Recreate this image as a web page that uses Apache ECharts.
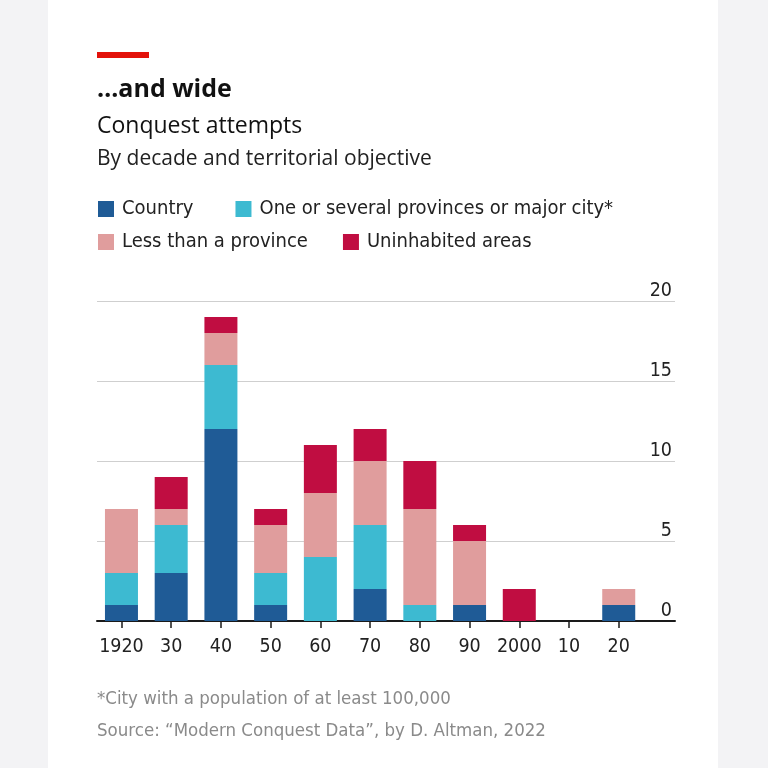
<!DOCTYPE html>
<html><head><meta charset="utf-8">
<script src="https://cdn.jsdelivr.net/npm/echarts@6/dist/echarts.min.js"></script>
<style>html,body{margin:0;padding:0;background:#f3f3f5}#c{width:768px;height:768px}</style>
</head><body><div id="c"></div>
<script>
// ---- data ----
const decades = ['1920','30','40','50','60','70','80','90','2000','10','20'];
const country = [1,3,12,1,0,2,0,1,0,0,1];
const provinces = [2,3,4,2,4,4,1,0,0,0,0];
const lessThanProvince = [4,1,2,3,4,4,6,4,0,0,1];
const uninhabited = [0,2,1,1,3,2,3,1,2,0,0];
const yMin = 0, yMax = 20, yStep = 5;
const seriesNames = ['Country','One or several provinces or major city*','Less than a province','Uninhabited areas'];
const seriesData = [country, provinces, lessThanProvince, uninhabited];
const colors = ['#1f5b96','#3dbad1','#e09d9d','#c00d41'];
const titleText = '…and wide';
const subtitleText = 'Conquest attempts';
const subsubText = 'By decade and territorial objective';
const noteText = '*City with a population of at least 100,000';
const sourceText = 'Source: “Modern Conquest Data”, by D. Altman, 2022';

const NARROW = '"DejaVu Sans Condensed","Liberation Sans Narrow",Roboto,sans-serif';
const SANS = '"Open Sans",Lato,sans-serif';

const chart = echarts.init(document.getElementById('c'), null, {renderer:'canvas'});
const option = {
  backgroundColor: '#f3f3f5',
  animation: false,
  graphic: [
    {type:'rect', z:-10, shape:{x:48, y:0, width:670, height:768}, style:{fill:'#ffffff'}},
    {type:'rect', shape:{x:97, y:52, width:52, height:6}, style:{fill:'#e3120b'}}
  ],
  title: [
    {text:titleText, left:97, top:77, padding:0, textStyle:{fontFamily:SANS, fontWeight:'bold', fontSize:25, lineHeight:25, color:'#111'}},
    {text:subtitleText, left:97, top:115, padding:0, textStyle:{fontFamily:SANS, fontWeight:'normal', fontSize:23, lineHeight:23, color:'#111'}},
    {text:subsubText, left:97, top:149, padding:0, textStyle:{fontFamily:SANS, fontWeight:'normal', fontSize:21, lineHeight:21, color:'#222'}},
    {text:noteText, left:97, top:689, padding:0, textStyle:{fontFamily:NARROW, fontWeight:'normal', fontSize:18.5, lineHeight:20, color:'#8a8a8a'}},
    {text:sourceText, left:97, top:721, padding:0, textStyle:{fontFamily:NARROW, fontWeight:'normal', fontSize:18.5, lineHeight:20, color:'#8a8a8a'}}
  ],
  legend: [
    {data:[seriesNames[0], seriesNames[1]], left:98, top:199, padding:0, itemWidth:16, itemHeight:16, itemGap:42, icon:'rect', selectedMode:false,
     textStyle:{fontFamily:NARROW, fontSize:20, color:'#222', padding:[0,0,0,3]}},
    {data:[seriesNames[2], seriesNames[3]], left:98, top:232, padding:0, itemWidth:16, itemHeight:16, itemGap:35, icon:'rect', selectedMode:false,
     textStyle:{fontFamily:NARROW, fontSize:20, color:'#222', padding:[0,0,0,3]}}
  ],
  grid: [
    {left:97, right:93, top:301, bottom:147},
    {left:96.6, width:547, top:301, bottom:147}
  ],
  xAxis: [
    {gridIndex:0, type:'value', min:0, max:1, axisLine:{show:true, lineStyle:{color:'#1a1a1a', width:2}},
     axisTick:{show:false}, axisLabel:{show:false}, splitLine:{show:false}},
    {gridIndex:1, type:'category', data:decades, axisLine:{show:false},
     axisTick:{show:true, alignWithLabel:true, length:7, lineStyle:{color:'#1a1a1a', width:1.5}},
     axisLabel:{margin:16, fontFamily:NARROW, fontSize:19.5, color:'#222', interval:0}}
  ],
  yAxis: [
    {gridIndex:0, type:'value', min:yMin, max:yMax, interval:yStep, position:'right',
     axisLine:{show:false}, axisTick:{show:false},
     axisLabel:{inside:true, margin:3, verticalAlign:'bottom', fontFamily:NARROW, fontSize:19.5, color:'#222'},
     splitLine:{lineStyle:{color:'#cfcfcf', width:1}}},
    {gridIndex:1, type:'value', min:yMin, max:yMax, interval:yStep, show:false, splitLine:{show:false}}
  ],
  series: seriesNames.map((name, i) => ({
    name, type:'bar', stack:'total', xAxisIndex:1, yAxisIndex:1, barWidth:33,
    itemStyle:{color:colors[i]}, data:seriesData[i], emphasis:{disabled:true}
  }))
};
chart.setOption(option);
</script></body></html>
